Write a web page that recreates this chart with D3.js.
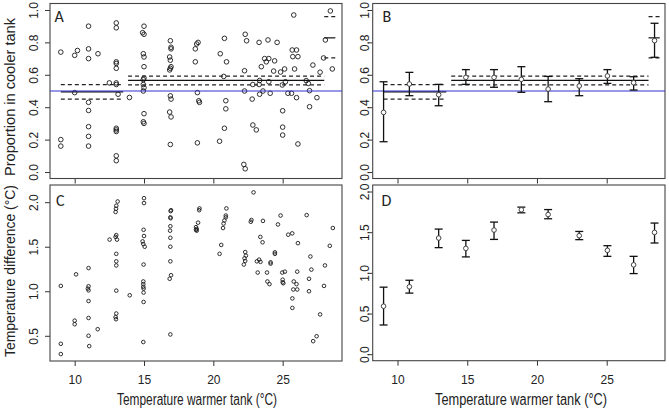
<!DOCTYPE html>
<html><head><meta charset="utf-8">
<script src="https://cdn.jsdelivr.net/npm/d3@7"></script>
<style>body{margin:0;background:#fff}svg{display:block}text{font-family:"Liberation Sans",Arial,sans-serif;fill:#222}</style>
</head><body><svg id="c" width="669" height="411"></svg>
<script>
// ---- data ----
const xTicks = [10, 15, 20, 25];
const propTicks = [0, 0.2, 0.4, 0.6, 0.8, 1.0];
const diffTicksC = [0.5, 1.0, 1.5, 2.0];
const diffTicksD = [0, 0.5, 1.0, 1.5, 2.0];
const panelLetters = ["A", "B", "C", "D"];
const xTitle = "Temperature warmer tank (°C)";
const yTitleTop = "Proportion in cooler tank";
const yTitleBottom = "Temperature difference (°C)";

// Panel A: individual trials [warm tank temp, proportion in cooler tank]
const propPoints = [
 [9,0.74],[9,0.20],[9,0.16],
 [10,0.72],[10,0.49],[10.2,0.75],
 [11,0.90],[11,0.76],[11,0.70],[11,0.43],[11,0.38],[11,0.28],[11,0.22],[11,0.16],
 [11.68,0.73],[12.5,0.55],
 [13,0.92],[13,0.89],[13,0.68],[13,0.67],[13,0.64],[13,0.55],[13,0.54],[13,0.27],[13,0.26],[13,0.25],[13,0.10],[13,0.07],[13.13,0.48],
 [13.95,0.46],
 [15,0.90],[14.9,0.86],[15,0.85],[14.95,0.73],[15,0.71],[15,0.65],[15,0.58],[14.95,0.57],[14.95,0.54],[15,0.52],[14.95,0.50],[15,0.36],[14.95,0.31],[15,0.30],
 [16.9,0.81],[16.95,0.77],[16.95,0.76],[16.85,0.71],[16.9,0.69],[16.95,0.65],[16.9,0.64],[16.85,0.63],[16.9,0.47],[16.95,0.45],[16.85,0.37],[16.95,0.34],[16.9,0.17],
 [18.9,0.80],[18.8,0.79],[18.7,0.76],[18.7,0.68],[18.85,0.49],[18.95,0.44],[19.0,0.43],[18.85,0.18],
 [20.8,0.825],[20.5,0.73],[20.95,0.68],[20.75,0.59],[20.9,0.44],[20.9,0.39],[20.8,0.27],[20.45,0.19],
 [22.3,0.85],[22.4,0.81],[22.25,0.625],[22.25,0.50],[22.8,0.45],[22.85,0.54],[22.85,0.29],[23.1,0.26],[22.2,0.047],[22.3,0.02],
 [23.3,0.80],[23.46,0.65],[23.7,0.70],[23.82,0.68],[23.94,0.815],[24.0,0.70],[23.34,0.565],[23.3,0.54],[23.34,0.48],[23.58,0.50],
 [24.0,0.557],[24.1,0.486],[24.35,0.623],[24.42,0.686],[24.6,0.80],[24.85,0.617],[24.97,0.537],[25.0,0.378],[25.0,0.277],[25.0,0.228],
 [25.14,0.636],[25.2,0.557],[25.38,0.486],[25.64,0.486],[25.69,0.753],[25.73,0.712],[25.8,0.969],[25.86,0.636],[26.0,0.753],[26.0,0.459],
 [26.1,0.712],[26.1,0.173],[26.7,0.564],[26.94,0.403],[26.94,0.502],[26.85,0.547],[27.18,0.66],[27.47,0.459],[27.7,0.616],[27.95,0.704],
 [28.08,0.815],[28.44,0.994],[28.58,0.636]
];

// Panel C: individual trials [warm tank temp, temperature difference]
const diffPoints = [
 [9,1.06],[9,0.41],[9,0.295],
 [10.1,1.19],[10,0.67],[10,0.63],
 [11,1.26],[11,1.056],[10.95,1.03],[11,1.01],[11,0.89],[11,0.70],[11,0.50],[11.05,0.384],
 [11.66,0.574],[12.52,1.58],
 [13.1,2.008],[13,1.96],[12.98,1.926],[12.95,1.89],[13,1.63],[12.95,1.61],[13.05,1.58],[13,1.42],[13,1.336],[13,1.29],[13,1.007],[13,0.75],[12.95,0.71],[12.98,0.686],
 [13.97,0.955],
 [15,2.045],[15,1.99],[14.97,1.69],[15,1.62],[14.9,1.56],[14.95,1.53],[15.05,1.50],[14.97,1.30],[14.95,1.11],[14.95,1.08],[14.95,1.05],[14.97,1.03],[14.97,0.985],[14.97,0.88],[14.95,0.43],
 [16.95,1.91],[16.92,1.90],[16.9,1.83],[16.92,1.82],[16.9,1.73],[16.88,1.68],[16.9,1.60],[16.9,1.50],[16.9,1.336],[16.95,1.18],[16.85,1.14],[16.9,0.515],
 [19.0,1.93],[18.98,1.91],[18.9,1.77],[18.75,1.72],[18.8,1.70],[18.75,1.69],[18.8,1.68],
 [20.45,1.42],[20.57,1.52],[20.7,1.71],[20.74,1.76],[20.8,1.795],[20.9,1.83],[20.9,1.85],[20.94,1.93],
 [22.3,1.44],[22.35,1.40],[22.25,1.37],[22.3,1.34],[22.2,1.30],
 [22.9,2.11],[22.7,1.78],[22.75,1.80],
 [23.58,1.79],[23.39,1.61],[23.55,1.55],[23.14,1.336],[23.3,1.355],[23.4,1.33],[23.2,1.21],[23.87,1.21],[23.9,1.11],[24.05,1.08],
 [24.85,1.85],[24.66,1.75],[26.73,1.855],[25.4,1.635],[25.69,1.65],[26.1,1.54],[28.62,1.71],[28.4,1.51],[24.44,1.437],[24.44,1.42],
 [24.13,1.325],[24.13,1.31],[24.97,1.21],[25.16,1.22],[25.0,1.13],[25.0,1.10],[25.05,1.09],[26.05,1.22],[25.8,1.11],[26.0,1.08],
 [26.05,1.02],[25.77,1.02],[25.7,0.92],[25.7,0.813],[27.0,1.39],[27.07,1.243],[26.9,1.14],[26.9,1.0],[28.05,1.29],[27.98,1.06],
 [27.7,0.74],[27.2,0.44],[27.45,0.495]
];

// Panels B & D: group means with error bars
const groupTemp = [9.0, 10.85, 12.95, 14.9, 16.92, 18.88, 20.8, 23.03, 25.05, 26.93, 28.43];
const propMean = [0.368, 0.543, 0.477, 0.584, 0.584, 0.572, 0.512, 0.531, 0.593, 0.551, 0.811];
const propLow  = [0.187, 0.471, 0.409, 0.541, 0.523, 0.492, 0.434, 0.471, 0.547, 0.506, 0.708];
const propHigh = [0.557, 0.615, 0.541, 0.632, 0.632, 0.650, 0.590, 0.576, 0.632, 0.588, 0.918];
const diffMean = [0.590, 0.829, 1.428, 1.301, 1.526, 1.775, 1.717, 1.457, 1.277, 1.098, 1.497];
const diffLow  = [0.359, 0.751, 1.310, 1.196, 1.411, 1.738, 1.665, 1.408, 1.203, 0.991, 1.367];
const diffHigh = [0.824, 0.909, 1.538, 1.399, 1.624, 1.808, 1.778, 1.509, 1.334, 1.203, 1.612];

// Piecewise fitted proportion with confidence band (panels A & B)
const segStart = [9.0, 13.85, 28.0];
const segEnd   = [13.5, 28.0, 28.8];
const segFit   = [0.495, 0.566, 0.828];
const segLow   = [0.450, 0.538, 0.704];
const segHigh  = [0.539, 0.592, 0.959];
const refLine = 0.5;

// ---- drawing ----
const svg = d3.select("#c");
const ink = "#222";

function panel(cfg) {
  const x = d3.scaleLinear().domain(cfg.xd).range([cfg.l, cfg.r]);
  const y = d3.scaleLinear().domain(cfg.yd).range([cfg.b, cfg.t]);
  const g = svg.append("g");
  g.append("g").attr("transform", `translate(0,${cfg.b})`)
    .call(d3.axisBottom(x).tickValues(xTicks).tickSize(5)
      .tickFormat(cfg.xlab ? d3.format("d") : () => ""))
    .call(a => { a.select(".domain").remove(); a.selectAll("line").attr("stroke", "#333");
      a.selectAll("text").attr("font-size", 12).attr("fill", ink).style("font-family", "Liberation Sans, Arial").attr("dy", 0).attr("y", 23); });
  g.append("g").attr("transform", `translate(${cfg.l},0)`)
    .call(d3.axisLeft(y).tickValues(cfg.yt).tickSize(5).tickFormat(d3.format(".1f")))
    .call(a => { a.select(".domain").remove(); a.selectAll("line").attr("stroke", "#333");
      a.selectAll("text").attr("font-size", 12).attr("fill", ink).style("font-family", "Liberation Sans, Arial")
        .attr("x", 0).attr("dy", 0).attr("text-anchor", "middle")
        .attr("transform", `translate(${cfg.ylabX - cfg.l},0) rotate(-90)`); });
  g.append("rect").attr("x", cfg.l).attr("y", cfg.t).attr("width", cfg.r - cfg.l).attr("height", cfg.b - cfg.t)
    .attr("fill", "none").attr("stroke", "#444").attr("stroke-width", 1.1);
  g.append("text").attr("x", cfg.lx).attr("y", cfg.ly).attr("font-size", 16).attr("fill", "#111")
    .style("font-family", "Carlito, 'Open Sans', Arial").text(cfg.letter);
  return {x, y, g};
}

function fitLines(p) {
  const g = p.g.append("g");
  segStart.forEach((s, i) => {
    const x0 = p.x(s), x1 = p.x(segEnd[i]);
    g.append("line").attr("x1", x0).attr("x2", x1).attr("y1", p.y(segFit[i])).attr("y2", p.y(segFit[i]))
      .attr("stroke", "#111").attr("stroke-width", 1.2);
    [segLow[i], segHigh[i]].forEach(v => g.append("line").attr("x1", x0).attr("x2", x1).attr("y1", p.y(v)).attr("y2", p.y(v))
      .attr("stroke", "#222").attr("stroke-width", 1.2).attr("stroke-dasharray", "4,3"));
  });
  g.append("line").attr("x1", p.x.range()[0]).attr("x2", p.x.range()[1]).attr("y1", p.y(refLine)).attr("y2", p.y(refLine))
    .attr("stroke", "#3030d0").attr("stroke-width", 1.1);
}

function errorBars(p, mean, lo, hi) {
  const g = p.g.append("g");
  groupTemp.forEach((t, i) => {
    const cx = p.x(t);
    g.append("line").attr("x1", cx).attr("x2", cx).attr("y1", p.y(lo[i])).attr("y2", p.y(hi[i])).attr("stroke", "#111").attr("stroke-width", 1.3);
    [lo[i], hi[i]].forEach(v => g.append("line").attr("x1", cx - 4).attr("x2", cx + 4).attr("y1", p.y(v)).attr("y2", p.y(v)).attr("stroke", "#111").attr("stroke-width", 1.3));
    g.append("circle").attr("cx", cx).attr("cy", p.y(mean[i])).attr("r", 2.3).attr("fill", "#fff").attr("stroke", "#444").attr("stroke-width", 1);
  });
}

function scatter(p, pts, r) {
  p.g.append("g").selectAll("circle").data(pts).join("circle")
    .attr("cx", d => p.x(d[0])).attr("cy", d => p.y(d[1])).attr("r", r)
    .attr("fill", "none").attr("stroke", "#1a1a1a").attr("stroke-width", 0.9);
}

const pA = panel({l: 50, r: 342, t: 3.5, b: 178.5, xd: [8.22, 29.28], yd: [-0.04, 1.04], yt: propTicks, xlab: false, ylabX: 37.5, letter: panelLetters[0], lx: 54.5, ly: 22});
const pB = panel({l: 372.7, r: 665, t: 3.5, b: 178.5, xd: [8.22, 29.18], yd: [-0.04, 1.04], yt: propTicks, xlab: false, ylabX: 369.3, letter: panelLetters[1], lx: 382.5, ly: 22});
const pC = panel({l: 50, r: 342, t: 185, b: 361, xd: [8.22, 29.28], yd: [0.217, 2.193], yt: diffTicksC, xlab: true, ylabX: 37.5, letter: panelLetters[2], lx: 56, ly: 205.5});
const pD = panel({l: 372.7, r: 665, t: 185, b: 360.7, xd: [8.22, 29.18], yd: [-0.08, 2.08], yt: diffTicksD, xlab: true, ylabX: 369.3, letter: panelLetters[3], lx: 381.5, ly: 205.5});

scatter(pA, propPoints, 2.3);
fitLines(pA);
fitLines(pB);
errorBars(pB, propMean, propLow, propHigh);
scatter(pC, diffPoints, 1.8);
errorBars(pD, diffMean, diffLow, diffHigh);

function title(txt, x, y, len, rot) {
  svg.append("text").attr("transform", `translate(${x},${y})` + (rot ? " rotate(-90)" : ""))
    .attr("text-anchor", "middle").attr("font-size", rot ? 15 : 16).attr("fill", "#111")
    .attr("textLength", len).attr("lengthAdjust", "spacingAndGlyphs").text(txt);
}
title(xTitle, 197, 405, 160, false);
title(xTitle, 521, 405, 172, false);
title(yTitleTop, 15, 97, 158, true);
title(yTitleBottom, 15, 271, 172, true);
</script></body></html>
